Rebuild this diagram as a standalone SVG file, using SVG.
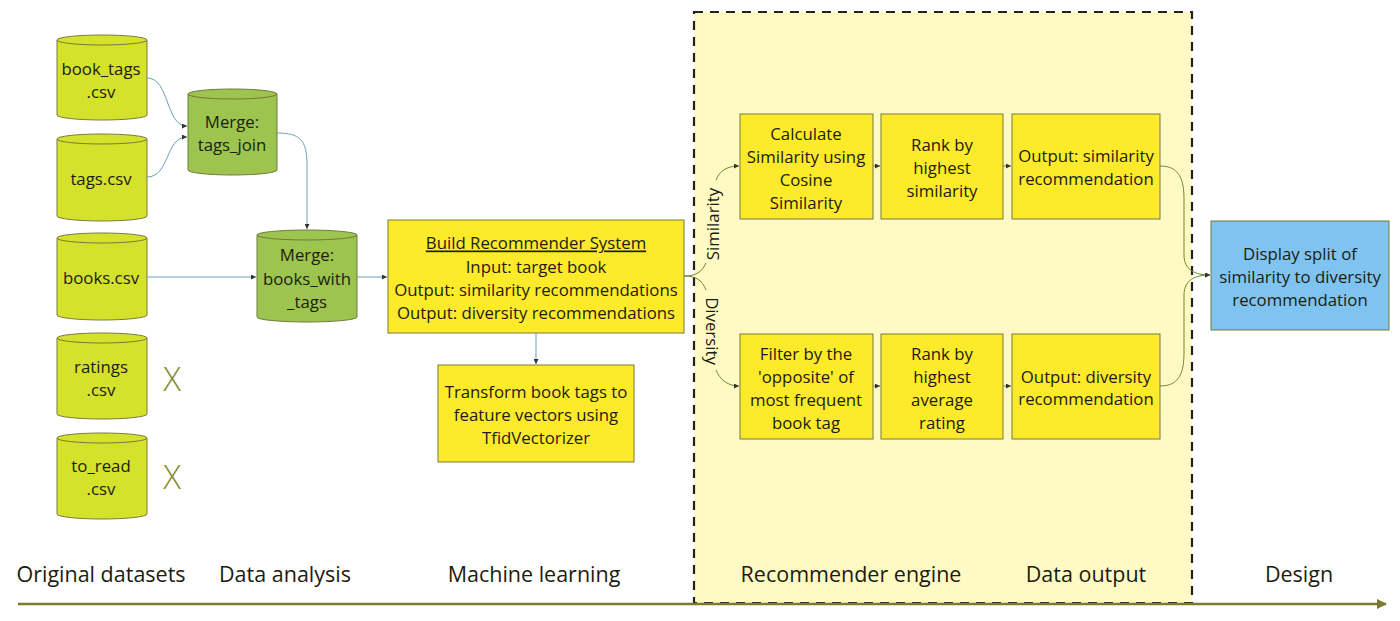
<svg xmlns="http://www.w3.org/2000/svg" width="1400" height="621" viewBox="0 0 1400 621">
<style>
text{font-family:"Open Sans","Liberation Sans",sans-serif;font-size:16.8px;fill:#1c1c10;text-anchor:middle;dominant-baseline:central}
.lbl{font-size:21.5px}
.cyl{fill:#d4e22b;stroke:#7a7a3a;stroke-width:1}
.cylg{fill:#9cc44e;stroke:#6f7a3a;stroke-width:1}
.box{fill:#fcea2b;stroke:#7a7a3a;stroke-width:1}
.blue{fill:#7fc3f0;stroke:#6f7a3a;stroke-width:1}
.cl{fill:none;stroke:#6aa0b8;stroke-width:1}
.cr{fill:none;stroke:#6f8a2e;stroke-width:1}
.x{font-size:33px;fill:#8a8a2e;font-weight:300}
</style>
<defs>
<marker id="ah" viewBox="0 0 6 6" refX="6" refY="3" markerWidth="5" markerHeight="5" orient="auto">
<path d="M0,0 L6,3 L0,6 Z" fill="#333"/>
</marker>
<marker id="ax" viewBox="0 0 10 10" refX="9" refY="5" markerWidth="4" markerHeight="4" orient="auto">
<path d="M0,0 L10,5 L0,10 Z" fill="#7a7a30"/>
</marker>
</defs>
<rect id="region" x="694" y="12" width="498" height="591" fill="#fff9c4" stroke="#222" stroke-width="2.2" stroke-dasharray="9,7"/>
<g id="n-book_tags"><path class="cyl" d="M57,40 A45,5 0 0 1 147,40 L147,115 A45,5 0 0 1 57,115 Z"/><path class="cyl" d="M57,40 A45,5 0 0 0 147,40" fill="none"/><text x="101" y="68">book_tags</text><text x="101" y="91">.csv</text></g>
<g id="n-tags"><path class="cyl" d="M57,139 A45,5 0 0 1 147,139 L147,216 A45,5 0 0 1 57,216 Z"/><path class="cyl" d="M57,139 A45,5 0 0 0 147,139" fill="none"/><text x="101" y="178">tags.csv</text></g>
<g id="n-books"><path class="cyl" d="M57,238 A45,5 0 0 1 147,238 L147,315 A45,5 0 0 1 57,315 Z"/><path class="cyl" d="M57,238 A45,5 0 0 0 147,238" fill="none"/><text x="101" y="277">books.csv</text></g>
<g id="n-ratings"><path class="cyl" d="M57,338 A45,5 0 0 1 147,338 L147,414 A45,5 0 0 1 57,414 Z"/><path class="cyl" d="M57,338 A45,5 0 0 0 147,338" fill="none"/><text x="101" y="366">ratings</text><text x="101" y="389">.csv</text><text class="x" x="172" y="378">X</text></g>
<g id="n-to_read"><path class="cyl" d="M57,438 A45,5 0 0 1 147,438 L147,514 A45,5 0 0 1 57,514 Z"/><path class="cyl" d="M57,438 A45,5 0 0 0 147,438" fill="none"/><text x="101" y="465">to_read</text><text x="101" y="488">.csv</text><text class="x" x="172" y="476">X</text></g>
<g id="n-tags_join"><path class="cylg" d="M188,94 A44.5,5 0 0 1 277,94 L277,170 A44.5,5 0 0 1 188,170 Z"/><path class="cylg" d="M188,94 A44.5,5 0 0 0 277,94" fill="none"/><text x="232" y="121">Merge:</text><text x="232" y="144">tags_join</text></g>
<g id="n-books_with_tags"><path class="cylg" d="M257,235 A50,5 0 0 1 357,235 L357,317 A50,5 0 0 1 257,317 Z"/><path class="cylg" d="M257,235 A50,5 0 0 0 357,235" fill="none"/><text x="307" y="254">Merge:</text><text x="307" y="278">books_with</text><text x="307" y="301">_tags</text></g>
<g id="n-build"><rect class="box" x="388" y="220" width="296" height="113"/><text x="536" y="242" text-decoration="underline">Build Recommender System</text><text x="536" y="266">Input: target book</text><text x="536" y="289">Output: similarity recommendations</text><text x="536" y="312">Output: diversity recommendations</text></g>
<g id="n-transform"><rect class="box" x="438" y="365" width="196" height="97"/><text x="536" y="391">Transform book tags to</text><text x="536" y="414">feature vectors using</text><text x="536" y="437">TfidVectorizer</text></g>
<g id="n-calc"><rect class="box" x="740" y="114" width="133" height="105"/><text x="806" y="133">Calculate</text><text x="806" y="156">Similarity using</text><text x="806" y="179">Cosine</text><text x="806" y="202">Similarity</text></g>
<g id="n-rank-sim"><rect class="box" x="881" y="114" width="122" height="105"/><text x="942" y="144">Rank by</text><text x="942" y="167">highest</text><text x="942" y="190">similarity</text></g>
<g id="n-out-sim"><rect class="box" x="1012" y="114" width="148" height="105"/><text x="1086" y="155">Output: similarity</text><text x="1086" y="178">recommendation</text></g>
<g id="n-filter"><rect class="box" x="740" y="334" width="133" height="105"/><text x="806" y="353">Filter by the</text><text x="806" y="376">'opposite' of</text><text x="806" y="399">most frequent</text><text x="806" y="422">book tag</text></g>
<g id="n-rank-avg"><rect class="box" x="881" y="334" width="122" height="105"/><text x="942" y="353">Rank by</text><text x="942" y="376">highest</text><text x="942" y="399">average</text><text x="942" y="422">rating</text></g>
<g id="n-out-div"><rect class="box" x="1012" y="334" width="148" height="105"/><text x="1086" y="376">Output: diversity</text><text x="1086" y="398">recommendation</text></g>
<g id="n-display"><rect class="blue" x="1211" y="221" width="178" height="109"/><text x="1300" y="253">Display split of</text><text x="1300" y="276">similarity to diversity</text><text x="1300" y="299">recommendation</text></g>
<g id="connectors">
<path class="cl" d="M147,78 C170,78 165,126 187,126" marker-end="url(#ah)"/>
<path class="cl" d="M147,177 C170,177 165,137 187,137" marker-end="url(#ah)"/>
<path class="cl" d="M277,133 C300,133 307,140 307,165 L307,229" marker-end="url(#ah)"/>
<path class="cl" d="M147,277 L256,277" marker-end="url(#ah)"/>
<path class="cl" d="M357,277 L387,277" marker-end="url(#ah)"/>
<path class="cl" d="M536,333 L536,364" marker-end="url(#ah)"/>
<path class="cr" d="M684,276 C696,276 702,272 706,263"/>
<path class="cr" d="M716,180 C720,170 728,166 739,166" marker-end="url(#ah)"/>
<path class="cr" d="M684,276 C696,276 702,280 706,290"/>
<path class="cr" d="M716,370 C720,380 728,386 739,386" marker-end="url(#ah)"/>
<text x="712" y="224" transform="rotate(-90 712 224)">Similarity</text>
<text x="712" y="331" transform="rotate(90 712 331)">Diversity</text>
<path class="cr" d="M873,166 L880,166" marker-end="url(#ah)"/>
<path class="cr" d="M1003,166 L1011,166" marker-end="url(#ah)"/>
<path class="cr" d="M873,386 L880,386" marker-end="url(#ah)"/>
<path class="cr" d="M1003,386 L1011,386" marker-end="url(#ah)"/>
<path class="cr" d="M1160,166 C1180,166 1184,180 1184,200 L1184,255 C1184,270 1195,275 1210,275" marker-end="url(#ah)"/>
<path class="cr" d="M1160,386 C1180,386 1184,372 1184,352 L1184,295 C1184,280 1195,275 1210,275" marker-end="url(#ah)"/>
</g>
<g id="axis">
<line x1="18" y1="604" x2="1386" y2="604" stroke="#7a7a30" stroke-width="2.5" marker-end="url(#ax)"/>
<text class="lbl" x="101" y="573">Original datasets</text>
<text class="lbl" x="285" y="573">Data analysis</text>
<text class="lbl" x="534" y="573">Machine learning</text>
<text class="lbl" x="851" y="573">Recommender engine</text>
<text class="lbl" x="1086" y="573">Data output</text>
<text class="lbl" x="1299" y="573">Design</text>
</g>
</svg>
